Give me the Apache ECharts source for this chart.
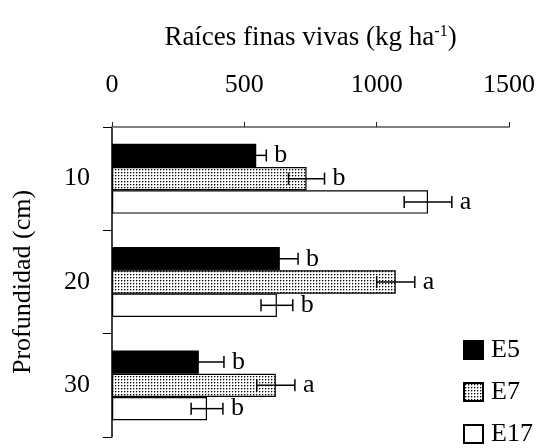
<!DOCTYPE html>
<html>
<head>
<meta charset="utf-8">
<script src="https://cdn.jsdelivr.net/npm/echarts@6/dist/echarts.min.js"></script>
<style>
  html, body { margin: 0; padding: 0; background: #fff; }
  #chart { width: 540px; height: 448px; }
</style>
</head>
<body>
<div id="chart"></div>
<script>
const categories = ['10', '20', '30']
const xTicks = [0, 500, 1000, 1500]
const e5 = [545, 634, 328]
const e5Err = [38, 69, 95]
const e5Sig = ['b', 'b', 'b']
const e7 = [735, 1072, 619]
const e7Err = [68, 72, 72]
const e7Sig = ['b', 'a', 'a']
const e17 = [1194, 623, 359]
const e17Err = [90, 60, 60]
const e17Sig = ['a', 'b', 'b']

const FONT = 'Liberation Serif'
const BAR_W = 23.3

// dotted fill for E7
function dotPattern () {
  const c = document.createElement('canvas')
  c.width = 3
  c.height = 3
  const ctx = c.getContext('2d')
  ctx.fillStyle = '#fff'
  ctx.fillRect(0, 0, 3, 3)
  ctx.fillStyle = '#000'
  ctx.fillRect(1, 1, 1, 1)
  ctx.fillStyle = 'rgba(0,0,0,0.35)'
  ctx.fillRect(2, 1, 1, 1)
  ctx.fillRect(1, 2, 1, 1)
  return c
}

function barSeries (name, values, fill) {
  return {
    name: name,
    type: 'bar',
    data: values,
    barWidth: BAR_W,
    barGap: '0%',
    itemStyle: { color: fill, borderColor: '#000', borderWidth: 1.2 },
    z: 2
  }
}

function errSeries (name, values, errs, sigs, offset) {
  return {
    name: name,
    type: 'custom',
    data: values.map((v, i) => [i, v, errs[i]]),
    encode: { x: 1, y: 0 },
    clip: false,
    z: 5,
    renderItem (params, api) {
      const cat = api.value(0)
      const v = api.value(1)
      const e = api.value(2)
      const y = api.coord([v, cat])[1] + offset * BAR_W
      const lo = api.coord([v - e, cat])[0]
      const hi = api.coord([v + e, cat])[0]
      const st = { stroke: '#000', lineWidth: 1.5 }
      return {
        type: 'group',
        children: [
          { type: 'line', shape: { x1: lo, y1: y, x2: hi, y2: y }, style: st },
          { type: 'line', shape: { x1: lo, y1: y - 6, x2: lo, y2: y + 6 }, style: st },
          { type: 'line', shape: { x1: hi, y1: y - 6, x2: hi, y2: y + 6 }, style: st },
          {
            type: 'text',
            x: hi + 8,
            y: y,
            style: {
              text: sigs[params.dataIndex],
              fill: '#000',
              font: '26px "' + FONT + '"',
              textAlign: 'left',
              textVerticalAlign: 'middle'
            }
          }
        ]
      }
    }
  }
}

const chart = echarts.init(document.getElementById('chart'))
chart.setOption({
  animation: false,
  textStyle: { fontFamily: FONT, color: '#000' },
  grid: { left: 112, right: 31, top: 127, bottom: 11, outerBoundsMode: 'none', containLabel: false },
  legend: {
    data: ['E5', 'E7', 'E17'],
    orient: 'vertical',
    left: 463,
    top: 337,
    padding: 0,
    itemGap: 16,
    itemWidth: 19,
    itemHeight: 18,
    icon: 'rect',
    selectedMode: false,
    textStyle: { fontFamily: FONT, fontSize: 26, color: '#000', padding: [0, 0, 0, 3] }
  },
  xAxis: {
    type: 'value',
    position: 'top',
    min: xTicks[0],
    max: xTicks[xTicks.length - 1],
    interval: xTicks[1] - xTicks[0],
    name: '{a|Raíces finas vivas (kg ha}{s|-1}{a|)}',
    nameLocation: 'middle',
    nameGap: 76,
    nameTextStyle: {
      rich: {
        a: { fontFamily: FONT, fontSize: 27, color: '#000' },
        s: { fontFamily: FONT, fontSize: 16, color: '#000', verticalAlign: 'top', padding: [0, 0, 10, 0] }
      }
    },
    axisLine: { show: true, lineStyle: { color: '#808080', width: 2 } },
    axisTick: { show: true, length: 5, lineStyle: { color: '#222', width: 1 } },
    axisLabel: {
      fontFamily: FONT,
      fontSize: 26,
      color: '#000',
      margin: 29,
      formatter: v => String(v)
    },
    splitLine: { show: false }
  },
  yAxis: {
    type: 'category',
    data: categories,
    inverse: true,
    name: 'Profundidad (cm)',
    nameLocation: 'middle',
    nameGap: 76,
    nameTextStyle: { fontFamily: FONT, fontSize: 26, color: '#000' },
    axisLine: { show: true, lineStyle: { color: '#000', width: 1.5 } },
    axisTick: { show: true, length: 9, lineStyle: { color: '#000', width: 1 } },
    axisLabel: { fontFamily: FONT, fontSize: 26, color: '#000', margin: 22, padding: [8, 0, 0, 0] }
  },
  series: [
    barSeries('E5', e5, '#000'),
    barSeries('E7', e7, { image: dotPattern(), repeat: 'repeat' }),
    barSeries('E17', e17, '#fff'),
    errSeries('E5 err', e5, e5Err, e5Sig, -1),
    errSeries('E7 err', e7, e7Err, e7Sig, 0),
    errSeries('E17 err', e17, e17Err, e17Sig, 1)
  ]
})
</script>
</body>
</html>
